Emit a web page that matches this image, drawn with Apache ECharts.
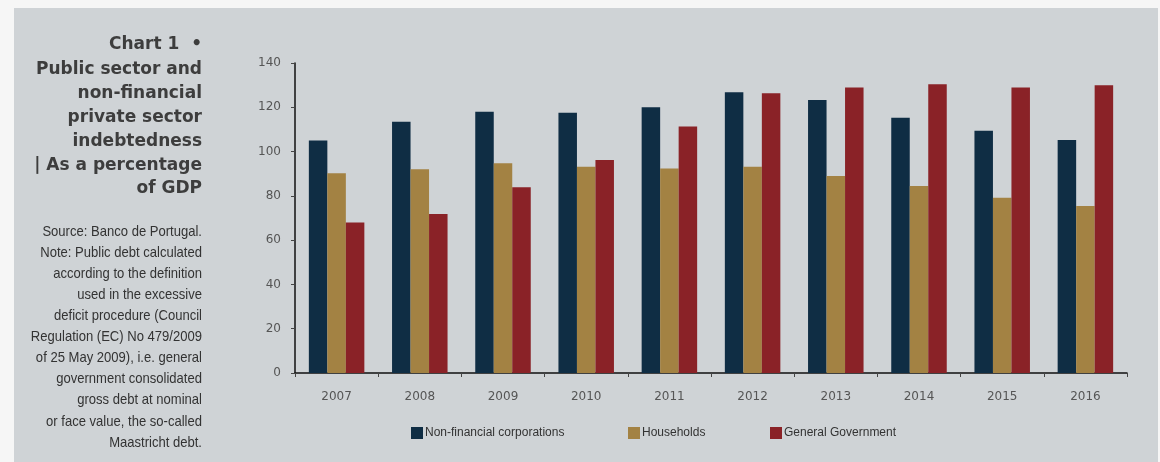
<!DOCTYPE html>
<html lang="en">
<head>
    <meta charset="UTF-8">
    <title>Chart 1</title>
    <script src="https://cdn.jsdelivr.net/npm/echarts@6/dist/echarts.min.js"></script>
    <style>
        body { margin: 0; background: #f6f6f6; }
        #root { width: 1160px; height: 462px; }
    </style>
</head>
<body>
    <div id="root"></div>
    <script>
        var years = ['2007', '2008', '2009', '2010', '2011', '2012', '2013', '2014', '2015', '2016'];
        var corporations = [105, 113.5, 118, 117.5, 120, 126.8, 123.3, 115.3, 109.4, 105.2];
        var households = [90.2, 92, 94.7, 93.2, 92.4, 93.2, 89, 84.5, 79.2, 75.4];
        var government = [68, 71.8, 83.9, 96.2, 111.3, 126.3, 128.9, 130.4, 128.9, 130];

        var titleLines = ['Public sector and', 'non-financial', 'private sector', 'indebtedness', '| As a percentage', 'of GDP'];
        var noteLines = ['Source: Banco de Portugal.', 'Note: Public debt calculated', 'according to the definition',
            'used in the excessive', 'deficit procedure (Council', 'Regulation (EC) No 479/2009',
            'of 25 May 2009), i.e. general', 'government consolidated', 'gross debt at nominal',
            'or face value, the so-called', 'Maastricht debt.'];

        var chart = echarts.init(document.getElementById('root'));

        var labelStyle = { color: '#555', fontFamily: 'DejaVu Sans', fontSize: 12 };

        // one legend per item so each can sit where it is in the original
        function legendAt(name, left) {
            return {
                data: [name],
                left: left,
                bottom: 18,
                itemWidth: 12,
                itemHeight: 12,
                itemGap: 2,
                icon: 'rect',
                textStyle: { color: '#333', fontFamily: 'Liberation Sans', fontSize: 12, padding: [0, 0, 0, -3] }
            };
        }

        chart.setOption({
            animation: false,
            graphic: [
                { type: 'rect', shape: { x: 14, y: 8, width: 1144, height: 460 }, style: { fill: '#cfd3d6' }, z: -10 },
                { type: 'text', x: 202, y: 36, style: { text: 'Chart 1  •', align: 'right', fill: '#3d3d3d', font: 'bold 17px "DejaVu Sans"' } },
                { type: 'text', x: 202, y: 58, style: { text: titleLines.join('\n'), align: 'right', fill: '#3d3d3d', font: 'bold 17px "DejaVu Sans"', lineHeight: 23.8 } },
                { type: 'text', x: 202, y: 221, scaleX: 0.87, style: { text: noteLines.join('\n'), align: 'right', fill: '#333', font: '15px "Liberation Sans"', lineHeight: 21.1 } }
            ],
            legend: [
                legendAt('Non-financial corporations', 406),
                legendAt('Households', 623),
                legendAt('General Government', 765)
            ],
            grid: { left: 295, right: 33, top: 63, bottom: 89 },
            xAxis: {
                type: 'category',
                data: years,
                axisLine: { lineStyle: { color: '#111', width: 1.5 } },
                axisTick: { show: true, length: 4, lineStyle: { color: '#444' } },
                axisLabel: Object.assign({ margin: 18 }, labelStyle)
            },
            yAxis: {
                type: 'value',
                min: 0,
                max: 140,
                interval: 20,
                splitLine: { show: false },
                axisLine: { show: true, lineStyle: { color: '#111', width: 1.5 } },
                axisTick: { show: true, length: 4, lineStyle: { color: '#444' } },
                axisLabel: Object.assign({ margin: 14 }, labelStyle)
            },
            series: [
                { name: 'Non-financial corporations', type: 'bar', data: corporations, itemStyle: { color: '#0f2d44' }, barWidth: 18.5, barGap: '0%' },
                { name: 'Households', type: 'bar', data: households, itemStyle: { color: '#a38243' }, barWidth: 18.5, barGap: '0%' },
                { name: 'General Government', type: 'bar', data: government, itemStyle: { color: '#8a2227' }, barWidth: 18.5, barGap: '0%' }
            ]
        });
    </script>
</body>
</html>
